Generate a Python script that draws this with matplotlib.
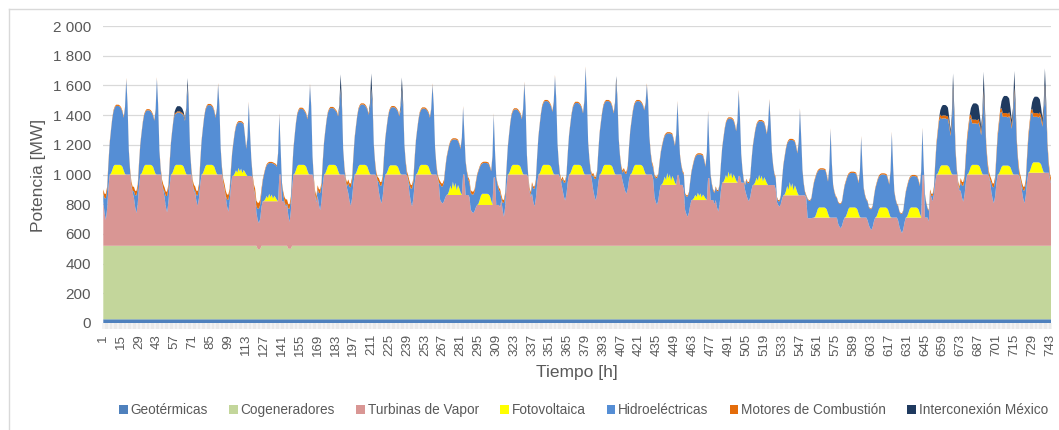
"""Despacho horario por tecnología - mes completo (744 h)"""
import numpy as np
import matplotlib
matplotlib.use("Agg")
import matplotlib.pyplot as plt
from matplotlib.patches import Patch
from matplotlib.lines import Line2D
from matplotlib.ticker import FuncFormatter

plt.rcParams["font.family"] = ["Liberation Sans", "DejaVu Sans"]
TXT = "#595959"

n_days = 31
hours = np.arange(1, 24 * n_days + 1)

# --- lecturas diarias del gráfico (MW) ---
night_total = [870, 890, 885, 890, 865, 810, 800, 900, 940, 950, 930, 940, 885, 830, 920, 960,
               985, 1020, 985, 860, 896, 950, 828, 828, 806, 772, 740, 870, 950, 940, 918]
hump_total = [1470, 1440, 1460, 1475, 1360, 1085, 1450, 1455, 1479, 1461, 1452, 1244, 1086, 1446, 1502, 1490,
              1502, 1502, 1285, 1143, 1385, 1367, 1240, 1042, 1019, 1008, 997, 1468, 1479, 1529, 1524]
afternoon_total = [1390, 1370, 1380, 1390, 1180, 1060, 1380, 1400, 1410, 1400, 1390, 1180, 1030, 1380, 1430, 1420,
                   1420, 1440, 1200, 1060, 1300, 1280, 1150, 960, 950, 940, 930, 1300, 1322, 1367, 1380]
spike_total = [1650, 1655, 1650, 1615, 1490, 1410, 1610, 1675, 1681, 1654, 1614, 1461, 1412, 1625, 1670, 1727,
               1663, 1614, 1495, 1430, 1569, 1508, 1446, 1311, 1259, 1288, 1315, 1681, 1692, 1697, 1715]

steam_plateau = [480, 480, 480, 480, 470, 300, 480, 480, 480, 480, 480, 342, 275, 480, 480, 480,
                 480, 480, 410, 308, 425, 409, 340, 190, 190, 190, 190, 480, 480, 480, 492]
steam_night = [175, 220, 225, 270, 230, 175, 180, 240, 270, 285, 265, 285, 220, 195, 265, 305,
               305, 350, 275, 196, 230, 300, 263, 185, 118, 106, 86, 300, 297, 286, 286]
steam_evening = [0, 0, 0, 0, 0, 480, 0, 0, 0, 0, 0, 480, 460, 0, 0, 0,
                 0, 0, 477, 456, 470, 398, 322, 0, 0, 0, 477, 0, 0, 0, 0]

pv_peak = [65, 65, 65, 65, 55, 50, 65, 65, 65, 62, 65, 90, 75, 65, 65, 65,
           65, 65, 80, 50, 75, 70, 90, 68, 68, 68, 68, 62, 65, 60, 70]
cloudy_days = [4, 5, 11, 18, 19, 20, 21, 22]

motors_night = [30, 30, 30, 30, 35, 40, 30, 25, 25, 25, 25, 20, 20, 20, 15, 15,
                15, 15, 10, 8, 8, 8, 8, 5, 5, 5, 5, 15, 25, 25, 25]
motors_day = [8] * 27 + [20, 25, 25, 25]

inter_hump = [0, 0, 35, 0, 0, 0, 0, 0, 0, 0, 0, 0, 0, 0, 0, 0,
              0, 0, 0, 0, 0, 0, 0, 0, 0, 0, 0, 70, 110, 115, 110]
inter_spike = [0, 0, 50, 0, 0, 0, 0, 90, 100, 85, 0, 0, 0, 0, 0, 0,
               30, 0, 0, 0, 0, 0, 0, 0, 0, 0, 0, 100, 120, 110, 110]

geo_mw = 25
cogen_mw = 495
cogen_dip = [0, 0, 0, 0, 0, 22, 20] + [0] * 24

# --- perfil horario típico (h1..h24) ---
tot_anchor = ["NH"] * 15 + ["AH", "AS", "AS", "AS", "AS"] + ["NH"] * 4
tot_frac = [0.05, 0, 0, 0.08, 0.35, 0.58, 0.72, 0.85, 0.94, 0.98, 1.0, 1.0, 1.0, 0.99, 0.97,
            0.5, 0.0, 0.25, 1.0, 0.35, 0.50, 0.28, 0.14, 0.08]
steam_frac = [0.4, 0.15, 0, 0.25, 0.7] + [1] * 18 + [0.75]
pv_clear = [0, 0, 0, 0, 0, 0, 0.1, 0.45, 0.85, 1, 1, 1, 1, 1, 0.95, 0.8, 0.4, 0.05, 0, 0, 0, 0, 0, 0]
pv_cloudy = [0, 0, 0, 0, 0, 0, 0.05, 0.3, 0.7, 0.4, 1.0, 0.55, 0.9, 0.35, 0.75, 0.5, 0.2, 0, 0, 0, 0, 0, 0, 0]
motor_frac = [1, 1, 1, 0.8, 0.4, 0.1] + [0] * 15 + [0.3, 0.7, 1]
inter_h_frac = [0] * 8 + [0.4, 0.9, 1, 1, 1, 1, 0.8, 0.5, 0.3] + [0] * 7
inter_s_frac = [0] * 17 + [0.3, 1, 0.4] + [0] * 4

total, geo, cogen, steam, pv, motors, inter = ([] for _ in range(7))
for d in range(n_days):
    N, H, A, S = night_total[d], hump_total[d], afternoon_total[d], spike_total[d]
    for h in range(24):
        k, f = tot_anchor[h], tot_frac[h]
        if k == "NH":
            v = N + f * (H - N)
        elif k == "AH":
            v = A + f * (H - A)
        else:
            v = A + f * (S - A)
        total.append(v)
        geo.append(geo_mw)
        cogen.append(cogen_mw - (cogen_dip[d] if 1 <= h <= 3 else 0))
        s = steam_night[d] + steam_frac[h] * (steam_plateau[d] - steam_night[d])
        if h in (18, 19) and steam_evening[d] > s:
            s = steam_evening[d]
        steam.append(s)
        shape = pv_cloudy if d in cloudy_days else pv_clear
        pv.append(pv_peak[d] * shape[h])
        motors.append(motors_day[d] + motor_frac[h] * (motors_night[d] - motors_day[d]))
        inter.append(inter_hump[d] * inter_h_frac[h] + inter_spike[d] * inter_s_frac[h])

total = np.array(total)
geo, cogen, pv, motors, inter = map(np.array, (geo, cogen, pv, motors, inter))
others = geo + cogen + pv + motors + inter
steam = np.clip(np.minimum(np.array(steam), total - others - 10), 0, None)
hydro = total - others - steam

labels = ["Geotérmicas", "Cogeneradores", "Turbinas de Vapor", "Fotovoltaica",
          "Hidroeléctricas", "Motores de Combustión", "Interconexión México"]
colors = ["#4F81BD", "#C3D69B", "#D99694", "#FFFF00", "#558ED5", "#E46C0A", "#1F3A5F"]

fig = plt.figure(figsize=(10.59, 4.30), dpi=100)
ax = fig.add_axes([103.3 / 1059, 1 - 323 / 430, 948 / 1059, 297 / 430])
ax.stackplot(hours, geo, cogen, steam, pv, hydro, motors, inter, colors=colors, linewidth=0)

ax.set_xlim(1, 744)
ax.set_ylim(0, 2000)
ax.set_yticks(np.arange(0, 2001, 200))
ax.yaxis.set_major_formatter(FuncFormatter(lambda v, p: f"{int(v):,}".replace(",", " ")))
ax.grid(True, axis="y", color="#D9D9D9", linewidth=0.9)
ax.set_axisbelow(True)
for sp in ax.spines.values():
    sp.set_visible(False)

ax.set_xticks(np.arange(1, 745, 14))
ax.set_xticklabels([str(v) for v in range(1, 745, 14)], rotation=90)
ax.set_xticks(hours, minor=True)
ax.tick_params(axis="x", which="both", length=4, width=0.35, color="#D0D0D0", labelsize=9.5,
               labelcolor=TXT, pad=4)
ax.tick_params(axis="y", length=0, labelsize=11, labelcolor=TXT, pad=9)

fig.text(39 / 1059, 1 - 175 / 430, "Potencia [MW]", rotation=90, ha="center", va="center",
         fontsize=12.5, color=TXT)
fig.text(577 / 1059, 1 - 372 / 430, "Tiempo [h]", ha="center", va="center", fontsize=12.5, color=TXT)

handles = [Patch(facecolor=c, edgecolor="none") for c in colors]
fig.legend(handles, labels, loc="center", bbox_to_anchor=(0.551, 1 - 410 / 430), ncol=7,
           frameon=False, fontsize=9.8, handlelength=0.65, handleheight=0.65, handletextpad=0.2,
           columnspacing=1.55, labelcolor=TXT)

fig.add_artist(Line2D([9 / 1059, 1], [1 - 9 / 430] * 2, color="#D9D9D9", lw=1, transform=fig.transFigure))
fig.add_artist(Line2D([9 / 1059] * 2, [0, 1 - 9 / 430], color="#D9D9D9", lw=1, transform=fig.transFigure))

fig.savefig("out.png", dpi=100)
plt.close()
